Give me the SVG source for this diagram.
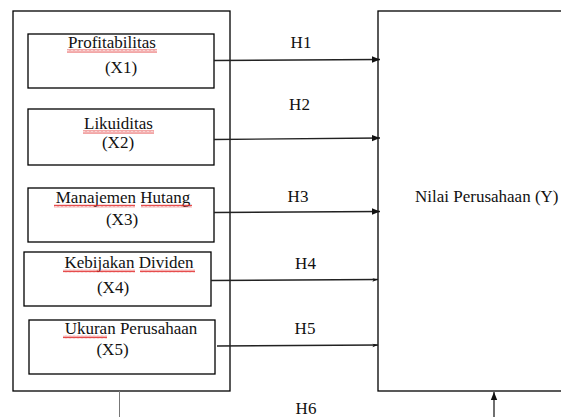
<svg xmlns="http://www.w3.org/2000/svg" width="561" height="417" viewBox="0 0 561 417" font-family="'Liberation Serif', 'Times New Roman', serif">
<style>
.box{fill:#fff;stroke:#000;stroke-width:1.3}
text{font-family:'Liberation Serif','Times New Roman',serif;font-size:17px;fill:#111}
.c{stroke:#222;stroke-width:1.3;fill:none}
.sq{fill:url(#squig)}
</style>
<defs>
<marker id="ah" viewBox="0 0 10 10" refX="10" refY="5" markerWidth="8" markerHeight="8" markerUnits="userSpaceOnUse" orient="auto">
<path d="M0,1 L10,5 L0,9 Z" fill="#111"/>
</marker>
<marker id="ah2" viewBox="0 0 10 10" refX="10" refY="5" markerWidth="7" markerHeight="7" markerUnits="userSpaceOnUse" orient="auto">
<path d="M2,3 L10,5 L2,8 L4,5 Z" fill="#111"/>
</marker>
<pattern id="squig" width="4" height="3" patternUnits="userSpaceOnUse">
<path d="M0,2.5 L1,0.5 L2,2.5 L3,0.5 L4,2.5" stroke="#e02020" stroke-width="0.8" fill="none"/>
</pattern>
</defs>
<g id="independent-group">
<rect class="box" x="13" y="11" width="217" height="380"/>
</g>
<g id="dependent-Y">
<rect class="box" x="378" y="11" width="200" height="380"/>
<text x="415" y="202">Nilai Perusahaan (Y)</text>
</g>
<g id="node-X1">
<rect class="box" x="28" y="34" width="186" height="54"/>
<text x="112" y="48" text-anchor="middle">Profitabilitas</text>
<rect class="sq" x="67" y="49.5" width="90" height="3"/>
<text x="121" y="73" text-anchor="middle">(X1)</text>
</g>
<g id="node-X2">
<rect class="box" x="28" y="109" width="186" height="56"/>
<text x="118.5" y="129" text-anchor="middle">Likuiditas</text>
<rect class="sq" x="83" y="130.5" width="71" height="3"/>
<text x="118" y="148" text-anchor="middle">(X2)</text>
</g>
<g id="node-X3">
<rect class="box" x="28" y="188" width="186" height="54"/>
<text x="123" y="203" text-anchor="middle">Manajemen Hutang</text>
<rect class="sq" x="54" y="204.5" width="81" height="3"/>
<rect class="sq" x="141" y="204.5" width="51" height="3"/>
<text x="122" y="225" text-anchor="middle">(X3)</text>
</g>
<g id="node-X4">
<rect class="box" x="24" y="252" width="187" height="54"/>
<text x="129" y="268" text-anchor="middle">Kebijakan Dividen</text>
<rect class="sq" x="63" y="269.5" width="72" height="3"/>
<rect class="sq" x="140" y="269.5" width="55" height="3"/>
<text x="113" y="292.5" text-anchor="middle">(X4)</text>
</g>
<g id="node-X5">
<rect class="box" x="29" y="320" width="186" height="54"/>
<text x="131" y="334" text-anchor="middle">Ukuran Perusahaan</text>
<rect class="sq" x="63" y="335.5" width="44" height="3"/>
<text x="112.5" y="355" text-anchor="middle">(X5)</text>
</g>
<g id="connectors">
<line class="c" x1="214" y1="60.5" x2="380" y2="59.5" marker-end="url(#ah)"/>
<line class="c" x1="214" y1="139.5" x2="380" y2="138" marker-end="url(#ah)"/>
<line class="c" x1="214" y1="212.5" x2="380" y2="211.5" marker-end="url(#ah)"/>
<line class="c" x1="211" y1="280.5" x2="378" y2="279.5" marker-end="url(#ah2)"/>
<line class="c" x1="217" y1="346" x2="378" y2="345" marker-end="url(#ah2)"/>
<line x1="119.5" y1="391" x2="119.5" y2="417" stroke="#777" stroke-width="1"/>
<line class="c" x1="494" y1="417" x2="494" y2="392" marker-end="url(#ah)"/>
<text x="301" y="48" text-anchor="middle">H1</text>
<text x="299.5" y="110" text-anchor="middle">H2</text>
<text x="298" y="202" text-anchor="middle">H3</text>
<text x="305.5" y="269" text-anchor="middle">H4</text>
<text x="305" y="334" text-anchor="middle">H5</text>
<text x="306" y="414" text-anchor="middle">H6</text>
</g>
</svg>
